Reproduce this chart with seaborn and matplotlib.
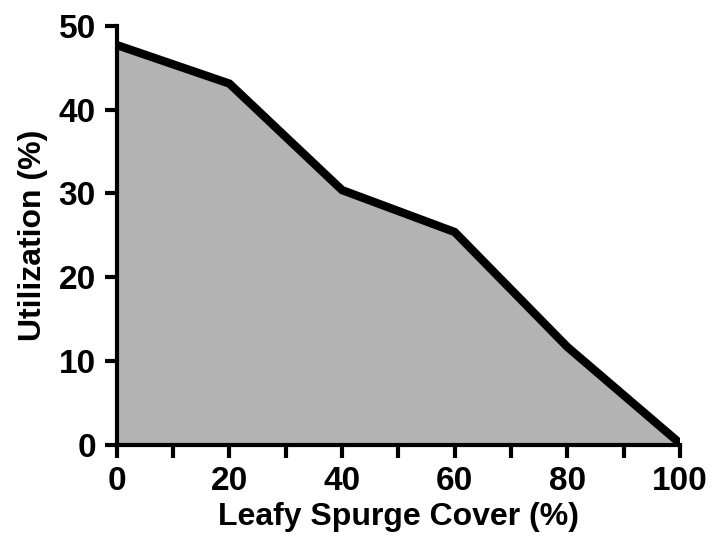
import pandas as pd
import seaborn as sns
import matplotlib.pyplot as plt

# valores
cover = [0, 20, 40, 60, 80, 100]
utilization = [47.7, 43.1, 30.4, 25.4, 11.7, 0.2]

df = pd.DataFrame({'cover': cover, 'utilization': utilization})

sns.set_style('ticks')
plt.rcParams['font.family'] = ['Liberation Sans', 'DejaVu Sans']
plt.rcParams['font.weight'] = 'bold'
plt.rcParams['text.color'] = 'black'
plt.rcParams['axes.labelcolor'] = 'black'
plt.rcParams['xtick.color'] = 'black'
plt.rcParams['ytick.color'] = 'black'
plt.rcParams['axes.edgecolor'] = 'black'

fig = plt.figure(figsize=(7.21, 5.48), dpi=100)
ax = fig.add_axes([0.162, 0.188, 0.781, 0.765])

ax.fill_between(df['cover'], df['utilization'], 0, color='#b3b3b3', lw=0)
sns.lineplot(x='cover', y='utilization', data=df, color='black', lw=6,
             solid_joinstyle='miter', ax=ax)

ax.set_xlim(0, 100)
ax.set_ylim(0, 50)
ax.set_xticks(range(0, 101, 20))
ax.set_xticks(range(10, 100, 20), minor=True)
ax.set_yticks(range(0, 51, 10))
ax.tick_params(which='both', direction='out', length=9, width=3, color='black',
               labelsize=24, pad=6)
for lab in ax.get_xticklabels() + ax.get_yticklabels():
    lab.set_fontweight('bold')
for s in ['left', 'bottom']:
    ax.spines[s].set_linewidth(3)
sns.despine(ax=ax)

ax.set_xlabel('Leafy Spurge Cover (%)', fontsize=23, fontweight='bold', labelpad=4)
ax.set_ylabel('Utilization (%)', fontsize=23, fontweight='bold', labelpad=8)

fig.savefig('out.png', dpi=100)
